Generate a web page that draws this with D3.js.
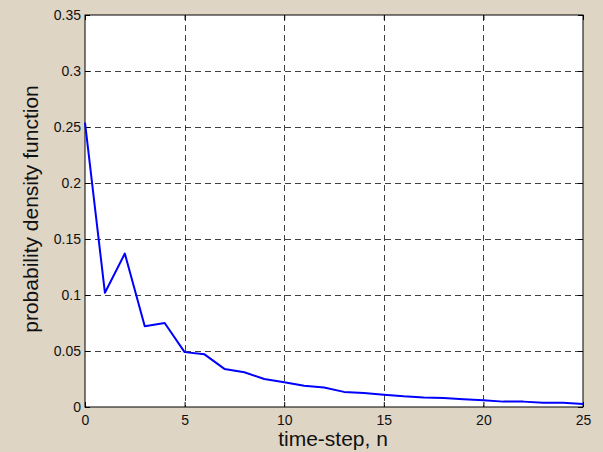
<!DOCTYPE html>
<html>
<head>
<meta charset="utf-8">
<script src="https://cdn.jsdelivr.net/npm/d3@7"></script>
<style>
  body { margin: 0; background: #dfd5c5; }
  svg { display: block; }
</style>
</head>
<body>
<div id="chart"></div>
<script>
// pdf values per time-step
var steps = d3.range(0, 26);
var pdfValues = [0.254, 0.102, 0.137, 0.072, 0.075, 0.049, 0.047, 0.034, 0.031, 0.025,
                 0.022, 0.019, 0.0175, 0.0135, 0.0125, 0.011, 0.0095, 0.0085, 0.008, 0.007,
                 0.006, 0.0048, 0.0048, 0.0039, 0.0039, 0.0027];
var xTicks = [0, 5, 10, 15, 20, 25];
var yTicks = [0, 0.05, 0.1, 0.15, 0.2, 0.25, 0.3, 0.35];

var width = 603, height = 452;
var margin = { top: 15, right: 20, bottom: 45, left: 85 };
var w = width - margin.left - margin.right,
    h = height - margin.top - margin.bottom;

var svg = d3.select('#chart').append('svg')
    .attr('width', width)
    .attr('height', height);

svg.append('rect').attr('width', width).attr('height', height).attr('fill', '#dfd5c5');

var g = svg.append('g').attr('transform', 'translate(' + margin.left + ',' + margin.top + ')');

var x = d3.scaleLinear().domain([0, 25]).range([0, w]);
var y = d3.scaleLinear().domain([0, 0.35]).range([h, 0]);

g.append('rect').attr('width', w).attr('height', h).attr('fill', '#fff');

/* --------- GRID ---------*/
g.append('g').selectAll('line.vgrid').data(xTicks.slice(1, -1)).enter()
    .append('line')
    .attr('x1', function (d) { return Math.round(x(d)) + 0.5; })
    .attr('x2', function (d) { return Math.round(x(d)) + 0.5; })
    .attr('y1', 0).attr('y2', h)
    .attr('stroke', '#000').attr('stroke-opacity', 0.75)
    .attr('stroke-dasharray', '6,4');

g.append('g').selectAll('line.hgrid').data(yTicks.slice(1, -1)).enter()
    .append('line')
    .attr('y1', function (d) { return Math.round(y(d)) + 0.5; })
    .attr('y2', function (d) { return Math.round(y(d)) + 0.5; })
    .attr('x1', 0).attr('x2', w)
    .attr('stroke', '#000').attr('stroke-opacity', 0.75)
    .attr('stroke-dasharray', '6,4');

/* --------- AXES ---------*/
var fmt = function (d) { return d === 0 ? '0' : String(+d.toFixed(2)); };

var xAxis = g.append('g').attr('transform', 'translate(0,' + h + ')')
    .call(d3.axisBottom(x).tickValues(xTicks).tickSizeInner(-5).tickSizeOuter(0).tickPadding(8));
var xTop = g.append('g')
    .call(d3.axisTop(x).tickValues(xTicks).tickSizeInner(-5).tickSizeOuter(0).tickFormat(''));
var yAxis = g.append('g')
    .call(d3.axisLeft(y).tickValues(yTicks).tickFormat(fmt).tickSizeInner(-5).tickSizeOuter(0).tickPadding(4));
var yRight = g.append('g').attr('transform', 'translate(' + w + ',0)')
    .call(d3.axisRight(y).tickValues(yTicks).tickSizeInner(-5).tickSizeOuter(0).tickFormat(''));

[xAxis, xTop, yAxis, yRight].forEach(function (a) {
    a.selectAll('.domain').remove();
    a.selectAll('line').attr('stroke', '#000');
    a.selectAll('text')
        .attr('font-family', 'Liberation Sans, Arial, sans-serif')
        .attr('font-size', 14)
        .attr('fill', '#111');
});

g.append('rect').attr('width', w).attr('height', h)
    .attr('fill', 'none').attr('stroke', '#000').attr('stroke-width', 1);

/* --------- LINE ---------*/
var line = d3.line()
    .x(function (d, i) { return x(steps[i]); })
    .y(function (d) { return y(d); });

g.append('path').datum(pdfValues)
    .attr('d', line)
    .attr('fill', 'none')
    .attr('stroke', '#0000ff')
    .attr('stroke-width', 2)
    .attr('stroke-linejoin', 'round');

/* --------- LABELS ---------*/
svg.append('text')
    .attr('x', margin.left + w / 2 - 1).attr('y', height - 6)
    .attr('text-anchor', 'middle')
    .attr('font-family', 'Liberation Sans, Arial, sans-serif')
    .attr('font-size', 21).attr('fill', '#111')
    .text('time-step, n');

svg.append('text')
    .attr('transform', 'translate(38,' + (margin.top + h / 2 - 2) + ') rotate(-90)')
    .attr('text-anchor', 'middle')
    .attr('font-family', 'Liberation Sans, Arial, sans-serif')
    .attr('font-size', 21).attr('fill', '#111')
    .text('probability density function');
</script>
</body>
</html>
